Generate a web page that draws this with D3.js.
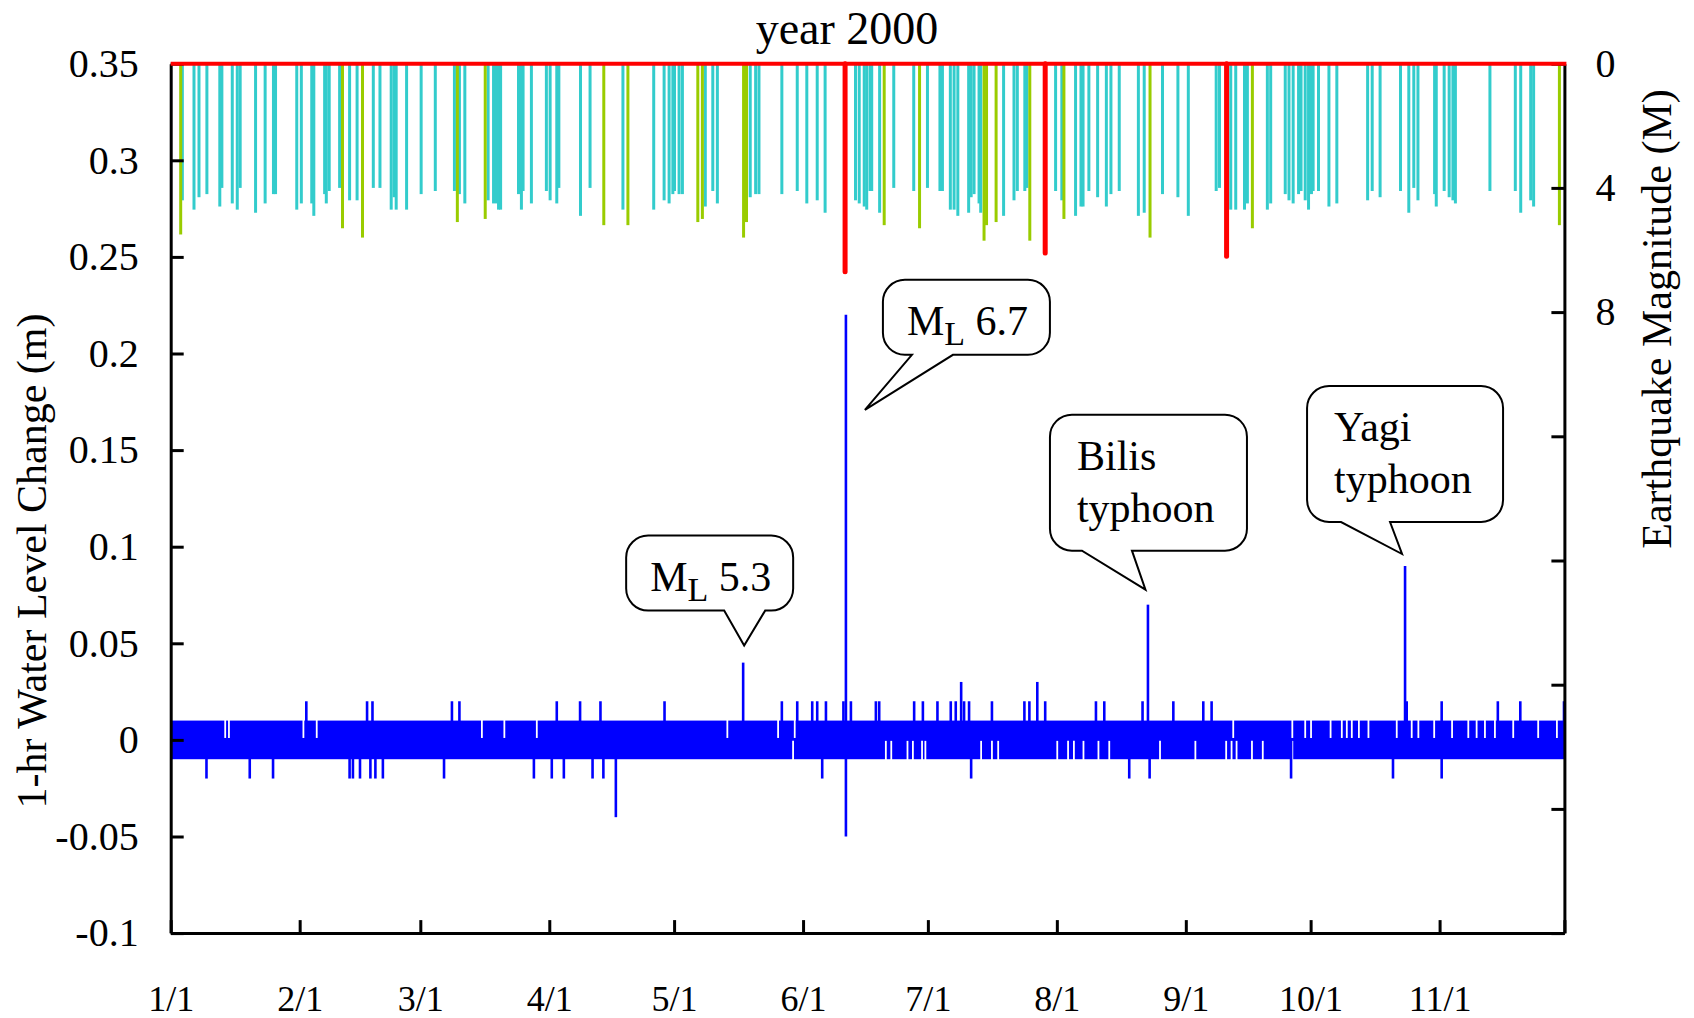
<!DOCTYPE html>
<meta charset="utf-8" />
<style>
  body {
    margin: 0;
    background: #fff;
  }
  text {
    font-family: 'Liberation Serif', 'Times New Roman', serif;
    fill: #000;
  }
</style>
<svg width="1694" height="1018"></svg>
<script src="https://d3js.org/d3.v7.min.js"></script>
<script>
  // all days are day-of-year 2000 (0 = Jan 1)
  // hourly water level stays inside +-0.01 m; only the excursions are listed
  var levelBand = [-0.01, 0.01];

  var levelPeaks = [
    [32.6, 0.02], [47.2, 0.02], [48.5, 0.02], [67.6, 0.02], [69.4, 0.02],
    [92.8, 0.02], [98.4, 0.02], [103.3, 0.02], [118.7, 0.02], [137.6, 0.04],
    [146.9, 0.02], [150.6, 0.02], [154.2, 0.02], [155.4, 0.02], [157.5, 0.02],
    [161.7, 0.02], [162.3, 0.22], [163.5, 0.02], [169.5, 0.02], [170.3, 0.02],
    [178.7, 0.02], [180.8, 0.02], [184.3, 0.02], [187.5, 0.02], [188.7, 0.02],
    [190.0, 0.03], [190.7, 0.02], [191.9, 0.02], [197.4, 0.02], [205.2, 0.02],
    [206.4, 0.02], [208.3, 0.03], [210.2, 0.02], [222.4, 0.02], [224.4, 0.02],
    [233.6, 0.02], [234.9, 0.07], [241.0, 0.02], [248.2, 0.02], [250.2, 0.02],
    [296.7, 0.09], [297.1, 0.02], [305.5, 0.02], [319.0, 0.02], [324.4, 0.02],
    [334.9, 0.02],
    [8.6, -0.02], [19.0, -0.02], [24.6, -0.02], [43.0, -0.02], [43.8, -0.02],
    [45.5, -0.02], [48.0, -0.02], [49.2, -0.02], [51.0, -0.02], [65.7, -0.02],
    [87.3, -0.02], [91.6, -0.02], [94.5, -0.02], [101.4, -0.02], [104.0, -0.02],
    [107.0, -0.04], [156.6, -0.02], [162.3, -0.05], [192.4, -0.02], [230.4, -0.02],
    [235.3, -0.02], [269.3, -0.02], [293.8, -0.02], [305.5, -0.02]
  ];

  // hours where the series never reached +0.01 / -0.01
  var upperGaps = [13.1, 14.0, 31.9, 35.1, 74.8, 80.2, 88.0, 133.8, 146.0, 150.0,
    197.4, 255.4, 269.6, 272.7, 274.1, 278.8, 281.5, 282.7, 283.9, 285.6, 287.9,
    294.7, 298.3, 299.9, 303.7, 308.0, 311.9, 313.9, 315.9, 318.3, 322.7, 328.7, 333.2];
  var lowerGaps = [149.6, 171.9, 173.2, 177.1, 178.4, 180.6, 181.4, 194.8, 197.4,
    198.9, 213.1, 215.7, 217.1, 219.4, 223.0, 225.6, 237.8, 246.3, 253.7, 255.0,
    256.2, 259.9, 262.5, 269.6];

  // earthquakes: day, magnitude
  var quakes = [
    [2.4, 5.5], [2.8, 4.4], [5.6, 4.7], [6.8, 4.3], [8.7, 4.2], [11.8, 4.6], [12.3, 4.0],
    [14.8, 4.5], [16.0, 4.7], [16.7, 4.0], [20.4, 4.8], [22.7, 4.5], [24.7, 4.2], [25.2, 4.2],
    [30.3, 4.7], [31.4, 4.5], [33.9, 4.5], [34.4, 4.9], [37.0, 4.2], [37.4, 4.5], [38.1, 4.1],
    [40.6, 4.0], [41.3, 5.3], [43.0, 4.4], [44.8, 4.4], [46.1, 5.6], [48.7, 4.0], [50.3, 4.0],
    [53.0, 4.7], [53.7, 4.3], [54.2, 4.7], [56.7, 4.7], [60.2, 4.2], [63.6, 4.1], [68.2, 4.1],
    [68.9, 5.1], [69.4, 4.2], [70.7, 4.5], [75.6, 5.0], [76.3, 4.4], [77.6, 4.5], [78.3, 4.5],
    [78.8, 4.7], [79.3, 4.7], [83.6, 4.2], [84.3, 4.7], [84.7, 4.1], [86.7, 4.5], [90.3, 4.1],
    [91.2, 4.4], [92.8, 4.5], [93.3, 4.0], [98.5, 4.9], [100.8, 4.0],
    [104.1, 5.2], [108.7, 4.7], [109.9, 5.2], [116.1, 4.7], [118.6, 4.4], [119.8, 4.5],
    [120.7, 4.2], [121.1, 4.1], [122.2, 4.2], [123.0, 4.2], [126.7, 5.1], [127.8, 5.0],
    [128.5, 4.6], [130.3, 4.1], [131.4, 4.5], [137.7, 5.6], [138.4, 5.1], [139.3, 4.3],
    [140.6, 4.2], [141.4, 4.2], [146.9, 4.2], [150.6, 4.1], [152.9, 4.5], [155.4, 4.4],
    [157.3, 4.8], [162.1, 6.7], [164.6, 4.4], [165.5, 4.5], [166.7, 4.6], [167.3, 4.7],
    [168.1, 4.1], [168.5, 4.1], [170.4, 4.8], [171.5, 5.2], [173.8, 4.0], [178.6, 4.1],
    [180.0, 5.3], [181.9, 4.0], [184.9, 4.1], [185.5, 4.1], [187.4, 4.7], [188.3, 4.7],
    [189.2, 4.9], [191.8, 4.8], [192.4, 4.3], [193.1, 4.2], [194.3, 4.5], [194.7, 4.8],
    [195.5, 5.7], [196.1, 5.2], [198.4, 5.1], [200.2, 4.9], [202.7, 4.4], [203.5, 4.1],
    [205.3, 4.1], [205.8, 4.0], [206.5, 5.7], [210.2, 6.1], [212.7, 4.1], [214.2, 4.4],
    [214.7, 5.0], [217.5, 4.9], [218.8, 4.6], [219.3, 4.6], [220.7, 4.1], [222.8, 4.3],
    [224.9, 4.6], [226.0, 4.2], [228.0, 4.1], [232.6, 4.9], [234.0, 4.8], [235.4, 5.6],
    [238.4, 4.2], [242.1, 4.3], [244.6, 4.9],
    [251.3, 4.1], [252.1, 4.0], [253.8, 6.2], [254.8, 4.7], [256.0, 4.7], [258.1, 4.7],
    [258.8, 4.5], [260.0, 5.3], [263.6, 4.7], [264.4, 4.5], [267.9, 4.2], [268.8, 4.4],
    [269.8, 4.5], [271.1, 4.2], [271.7, 4.1], [272.7, 4.4], [273.5, 4.7], [274.2, 4.2],
    [274.6, 4.1], [275.9, 4.1], [278.4, 4.6], [280.3, 4.5], [287.7, 4.4], [288.8, 4.1],
    [290.7, 4.3], [295.6, 4.1], [297.6, 4.8], [298.8, 4.0], [299.8, 4.4], [303.8, 4.2],
    [304.2, 4.6], [306.1, 4.1], [307.3, 4.3], [308.2, 4.4], [308.8, 4.5], [317.1, 4.1],
    [323.2, 4.1], [324.5, 4.8], [326.9, 4.4], [327.6, 4.6], [333.8, 5.2]
  ];

  var levelTicks = [0.35, 0.3, 0.25, 0.2, 0.15, 0.1, 0.05, 0, -0.05, -0.1];
  var magTicks = [0, 4, 8, 12, 16, 20, 24, 28];
  var magLabels = [0, 4, 8];
  var monthLabels = ['1/1', '2/1', '3/1', '4/1', '5/1', '6/1', '7/1', '8/1', '9/1', '10/1', '11/1', ''];

  var notes = [
    { day: 162.3, value: 0.22, sub: true, lines: ['M', 'L', ' 6.7'] },
    { day: 137.6, value: 0.04, sub: true, lines: ['M', 'L', ' 5.3'] },
    { day: 234.9, value: 0.07, sub: false, lines: ['Bilis', 'typhoon'] },
    { day: 296.7, value: 0.09, sub: false, lines: ['Yagi', 'typhoon'] }
  ];

  var svg = d3.select('svg'),
    plotLeft = 170.7,
    plotRight = 1564.4,
    plotTop = 63.7,
    plotBottom = 933.1;

  var t0 = new Date(Date.UTC(2000, 0, 1)),
    t1 = new Date(Date.UTC(2000, 11, 1));
  function toDate(day) {
    return d3.utcMinute.offset(t0, Math.round(day * 1440));
  }

  var x = d3.scaleUtc().domain([t0, t1]).range([plotLeft, plotRight]);
  var y = d3.scaleLinear().domain([-0.1, 0.35]).range([plotBottom, plotTop]);
  var m = d3.scaleLinear().domain([0, 28]).range([plotTop, plotBottom]);

  var blue = '#0000ff';

  // water level band
  svg.append('rect')
    .attr('x', x(t0))
    .attr('width', x(t1) - x(t0) + 1)
    .attr('y', y(levelBand[1]))
    .attr('height', y(levelBand[0]) - y(levelBand[1]))
    .attr('fill', blue);

  svg.selectAll('.gapUp')
    .data(upperGaps)
    .enter()
    .append('line')
    .attr('x1', (d) => x(toDate(d)))
    .attr('x2', (d) => x(toDate(d)))
    .attr('y1', y(levelBand[1]) - 1)
    .attr('y2', y(0.001))
    .attr('stroke', '#fff')
    .attr('stroke-width', 1.8);

  svg.selectAll('.gapDown')
    .data(lowerGaps)
    .enter()
    .append('line')
    .attr('x1', (d) => x(toDate(d)))
    .attr('x2', (d) => x(toDate(d)))
    .attr('y1', y(-0.0005))
    .attr('y2', y(levelBand[0]) + 1)
    .attr('stroke', '#fff')
    .attr('stroke-width', 1.8);

  svg.selectAll('.peak')
    .data(levelPeaks)
    .enter()
    .append('line')
    .attr('x1', (d) => x(toDate(d[0])))
    .attr('x2', (d) => x(toDate(d[0])))
    .attr('y1', y(0))
    .attr('y2', (d) => y(d[1]))
    .attr('stroke', blue)
    .attr('stroke-width', 2.6);

  // earthquake magnitudes hanging from the top
  function quakeColor(mag) {
    if (mag >= 6) return '#ff0000';
    if (mag >= 5) return '#99cc00';
    return '#33cccc';
  }
  var sorted = quakes.slice().sort((a, b) => a[1] - b[1]);
  svg.selectAll('.quake')
    .data(sorted)
    .enter()
    .append('line')
    .attr('x1', (d) => x(toDate(d[0])))
    .attr('x2', (d) => x(toDate(d[0])))
    .attr('y1', m(0))
    .attr('y2', (d) => m(d[1]))
    .attr('stroke', (d) => quakeColor(d[1]))
    .attr('stroke-width', (d) => (d[1] >= 6 ? 5 : 3))
    .attr('stroke-linecap', (d) => (d[1] >= 6 ? 'round' : 'butt'));

  // axes
  function styleAxis(g, size) {
    g.attr('font-size', size)
      .attr('font-family', "'Liberation Serif', 'Times New Roman', serif");
    g.selectAll('path, line').attr('stroke', '#000').attr('stroke-width', 3);
    g.selectAll('text').attr('fill', '#000');
  }

  svg.append('g')
    .attr('transform', 'translate(' + plotLeft + ',0)')
    .call(d3.axisLeft(y).tickValues(levelTicks).tickSize(-13).tickSizeOuter(0).tickPadding(32)
      .tickFormat((d) => String(d)))
    .call(styleAxis, 40);

  svg.append('g')
    .attr('transform', 'translate(' + plotRight + ',0)')
    .call(d3.axisRight(m).tickValues(magTicks).tickSize(-13).tickSizeOuter(0).tickPadding(31)
      .tickFormat((d) => (magLabels.indexOf(d) >= 0 ? String(d) : '')))
    .call(styleAxis, 40);

  var months = d3.utcMonth.range(t0, d3.utcDay.offset(t1, 1));
  svg.append('g')
    .attr('transform', 'translate(0,' + plotBottom + ')')
    .call(d3.axisBottom(x).tickValues(months).tickSize(-13).tickSizeOuter(0).tickPadding(52)
      .tickFormat((d, i) => monthLabels[i]))
    .call(styleAxis, 36);

  // magnitude zero line
  svg.append('line')
    .attr('x1', plotLeft)
    .attr('x2', plotRight + 2)
    .attr('y1', m(0))
    .attr('y2', m(0))
    .attr('stroke', '#ff0000')
    .attr('stroke-width', 4);

  // titles
  svg.append('text')
    .attr('x', 847)
    .attr('y', 44)
    .attr('text-anchor', 'middle')
    .attr('font-size', 46)
    .text('year 2000');

  svg.append('text')
    .attr('transform', 'translate(46,561) rotate(-90)')
    .attr('text-anchor', 'middle')
    .attr('font-size', 42)
    .text('1-hr Water Level Change (m)');

  svg.append('text')
    .attr('transform', 'translate(1671,319) rotate(-90)')
    .attr('text-anchor', 'middle')
    .attr('font-size', 42)
    .text('Earthquake Magnitude (M)');

  // speech-bubble callouts, placed relative to the peak they point at
  var layout = [
    { tip: [19, 95], box: [37, -35, 167, 75], base: [66, 107] },
    { tip: [1, -17], box: [-117, -127, 167, 75], base: [-19, 22] },
    { tip: [-2.5, -15], box: [-98, -190, 197, 136], base: [-66, -16] },
    { tip: [-3, -12], box: [-98, -180, 196, 136], base: [-64, -15] }
  ];

  notes.forEach(function (n, i) {
    var L = layout[i],
      sx = x(toDate(n.day)),
      sy = y(n.value),
      x0 = sx + L.box[0],
      y0 = sy + L.box[1],
      x1 = x0 + L.box[2],
      y1 = y0 + L.box[3],
      r = 22;
    var p = d3.path();
    p.moveTo(x0 + r, y0);
    p.lineTo(x1 - r, y0);
    p.arcTo(x1, y0, x1, y0 + r, r);
    p.lineTo(x1, y1 - r);
    p.arcTo(x1, y1, x1 - r, y1, r);
    p.lineTo(sx + L.base[1], y1);
    p.lineTo(sx + L.tip[0], sy + L.tip[1]);
    p.lineTo(sx + L.base[0], y1);
    p.lineTo(x0 + r, y1);
    p.arcTo(x0, y1, x0, y1 - r, r);
    p.lineTo(x0, y0 + r);
    p.arcTo(x0, y0, x0 + r, y0, r);
    p.closePath();
    svg.append('path')
      .attr('d', p.toString())
      .attr('fill', '#fff')
      .attr('stroke', '#000')
      .attr('stroke-width', 2);

    if (n.sub) {
      var t = svg.append('text')
        .attr('x', x0 + 24)
        .attr('y', y0 + 55)
        .attr('font-size', 42);
      t.append('tspan').text(n.lines[0]);
      t.append('tspan').attr('font-size', 34).attr('dy', 10).text(n.lines[1]);
      t.append('tspan').attr('dy', -10).text(n.lines[2]);
    } else {
      n.lines.forEach(function (s, j) {
        svg.append('text')
          .attr('x', x0 + 27)
          .attr('y', y0 + 55 + j * 52)
          .attr('font-size', 42)
          .text(s);
      });
    }
  });
</script>
